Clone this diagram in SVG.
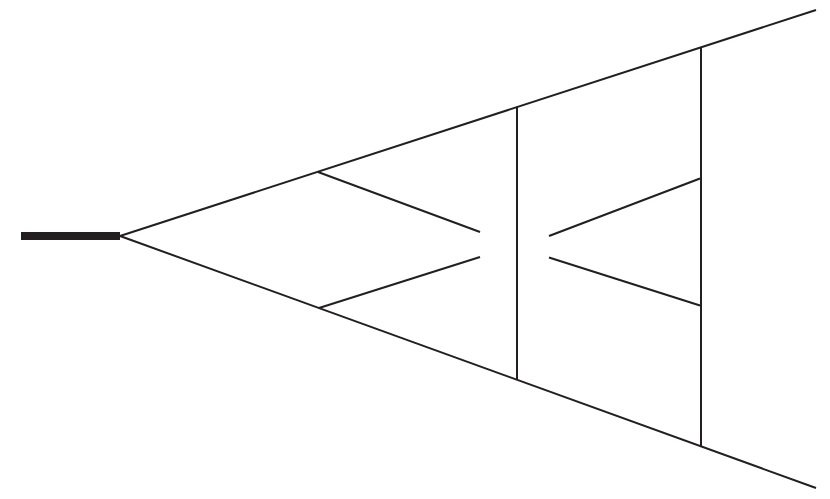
<svg xmlns="http://www.w3.org/2000/svg" width="830" height="499" viewBox="0 0 830 499">
<style>
.l{stroke:#231f20;stroke-width:2;fill:none;stroke-linecap:butt}
</style>
<rect width="830" height="499" fill="#fff"/>
<g id="stem">
<rect x="21" y="232" width="99" height="8" fill="#231f20"/>
</g>
<g id="connectors">
<line class="l" x1="120" y1="236" x2="816" y2="10"/>
<line class="l" x1="120" y1="236" x2="816" y2="488"/>
<line class="l" x1="318" y1="172" x2="480" y2="232"/>
<line class="l" x1="319" y1="308" x2="480" y2="257"/>
<line class="l" x1="517" y1="106.5" x2="517" y2="380"/>
<line class="l" x1="701" y1="47" x2="701" y2="446"/>
<line class="l" x1="549" y1="236" x2="700" y2="178.5"/>
<line class="l" x1="549" y1="257.5" x2="700" y2="305.5"/>
</g>
</svg>
